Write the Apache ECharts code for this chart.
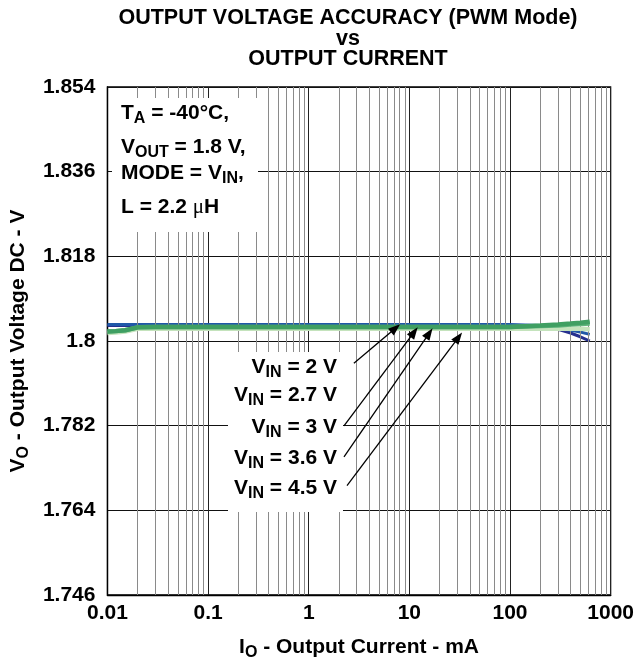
<!DOCTYPE html>
<html><head><meta charset="utf-8">
<script src="https://cdn.jsdelivr.net/npm/echarts/dist/echarts.min.js"></script>
<style>html,body{margin:0;padding:0;background:#fff}#c{width:637px;height:666px}</style>
</head><body><div id="c"></div>
<script>
// ---- data ----
const currents = [0.01,0.012,0.015,0.02,0.03,0.05,0.1,0.2,0.5,1,2,5,10,20,50,100,200,300,400,500,620];
const vin2V  = [1.8033,1.8033,1.8033,1.8033,1.8033,1.8033,1.8033,1.8033,1.8033,1.8033,1.8033,1.8033,1.8033,1.8033,1.8033,1.8033,1.8031,1.8025,1.8017,1.8009,1.8000];
const vin27V = [1.8035,1.8035,1.8035,1.8035,1.8035,1.8035,1.8035,1.8035,1.8035,1.8035,1.8035,1.8035,1.8035,1.8035,1.8035,1.8035,1.8033,1.8028,1.8023,1.8019,1.8014];
const vin3V  = [1.8017,1.8018,1.8020,1.8026,1.8026,1.8026,1.8026,1.8026,1.8026,1.8026,1.8026,1.8026,1.8026,1.8026,1.8026,1.8026,1.8026,1.8026,1.8026,1.8026,1.8025];
const vin36V = [1.8020,1.8021,1.8023,1.8029,1.8030,1.8030,1.8030,1.8030,1.8030,1.8030,1.8030,1.8030,1.8030,1.8030,1.8030,1.8030,1.8032,1.8033,1.8035,1.8036,1.8037];
const vin45V = [1.8020,1.8021,1.8023,1.8029,1.8030,1.8030,1.8030,1.8030,1.8030,1.8030,1.8030,1.8030,1.8030,1.8030,1.8030,1.8030,1.8033,1.8035,1.8037,1.8039,1.8041];
const seriesNames = ['VIN = 2 V','VIN = 2.7 V','VIN = 3 V','VIN = 3.6 V','VIN = 4.5 V'];
const yTicks = [1.746,1.764,1.782,1.8,1.818,1.836,1.854];
const xTicks = ['0.01','0.1','1','10','100','1000'];
const titleLines = ['OUTPUT VOLTAGE ACCURACY (PWM Mode)','vs','OUTPUT CURRENT'];
const condLines = ['{m|T}{s|A}{m| = -40°C,}','{m|V}{s|OUT}{m| = 1.8 V,}','{m|MODE = V}{s|IN}{m|,}','{m|L = 2.2 }{mu|μ}{m|H}'];
const vinLabels = ['{m|V}{s|IN}{m| = 2 V}','{m|V}{s|IN}{m| = 2.7 V}','{m|V}{s|IN}{m| = 3 V}','{m|V}{s|IN}{m| = 3.6 V}','{m|V}{s|IN}{m| = 4.5 V}'];
// arrow annotations in data units [current, voltage]
const arrowFrom = [[2.81,1.79528],[2.24,1.78194],[2.24,1.77538],[2.40,1.76923]];
const arrowTo   = [[8.09,1.80354],[12.1,1.8029],[17.0,1.8027],[33.4,1.8018]];

const FONT = 'Liberation Sans, Arial, Helvetica, sans-serif';
const rich = {
  m: {fontSize:21, fontWeight:'bold', fontFamily:FONT, lineHeight:24, verticalAlign:'top', color:'#000'},
  s: {fontSize:16, fontWeight:'bold', fontFamily:FONT, lineHeight:19, padding:[8,0,0,0], verticalAlign:'top', color:'#000'},
  mu:{fontSize:21, fontWeight:'normal', fontFamily:'Liberation Serif, DejaVu Serif, serif', lineHeight:24, verticalAlign:'top', color:'#000'}
};

// minor gridlines positions (2..9 × decade)
const minorVals = [];
for (let e = -2; e < 3; e++) for (let k = 2; k <= 9; k++) minorVals.push(+(k*Math.pow(10,e)).toPrecision(6));

const chart = echarts.init(document.getElementById('c'), null, {renderer:'canvas'});
const colors = ['#26308e','#2058a8','#c4e3bc','#5fb47c','#3f9f62'];
const widths = [3,3,4.5,4.5,4.5];
const vals = [vin2V,vin27V,vin3V,vin36V,vin45V];

const series = [{
  type:'line', data:[], z:1, silent:true,
  markLine:{silent:true, symbol:['none','none'], label:{show:false},
    lineStyle:{color:'#8a8a8a', width:1, type:'solid'},
    animation:false,
    data: minorVals.map(v=>({xAxis:v}))}
}];
vals.forEach((arr,i)=>{
  series.push({
    name: seriesNames[i], type:'line', showSymbol:false, symbol:'none', smooth:false,
    data: currents.map((c,j)=>[c, arr[j]]),
    lineStyle:{color:colors[i], width:widths[i]}, itemStyle:{color:colors[i]},
    z:3+i, animation:false
  });
});

chart.setOption({
  animation:false,
  backgroundColor:'#fff',
  grid:{left:102, right:23, top:87, bottom:69, show:true, borderColor:'#000', borderWidth:1.3, backgroundColor:'transparent'},
  xAxis:{
    type:'log', logBase:10, min:0.01, max:1000,
    axisLine:{show:true, lineStyle:{color:'#000', width:1.3}},
    axisTick:{show:false},
    splitLine:{show:true, lineStyle:{color:'#222', width:1}},
    axisLabel:{color:'#000', fontSize:21, fontWeight:'bold', fontFamily:FONT, margin:8,
      formatter: v => { const s = String(+(+v).toPrecision(6)); return xTicks.includes(s) ? s : ''; }},
    name:'{m|I}{s|O}{m| - Output Current - mA}', nameLocation:'middle', nameGap:42,
    nameTextStyle:{rich:rich}
  },
  yAxis:{
    type:'value', min:1.746, max:1.854, interval:0.018,
    axisLine:{show:true, lineStyle:{color:'#000', width:1.3}},
    axisTick:{show:false},
    splitLine:{show:true, lineStyle:{color:'#111', width:1.2}},
    axisLabel:{color:'#000', fontSize:21, fontWeight:'bold', fontFamily:FONT, margin:12,
      formatter: v => String(+(+v).toFixed(3))},
    name:'{m|V}{s|O}{m| - Output Voltage DC - V}', nameLocation:'middle', nameGap:69,
    nameTextStyle:{rich:rich}
  },
  series: series
});

// graphics: title, condition box, labels, arrows
const g = [];
g.push({type:'text', z:100, style:{text:titleLines.join('\n'), x:348, y:8, textAlign:'center', align:'center', textVerticalAlign:'top', verticalAlign:'top',
  font:'bold 21.5px '+FONT, fill:'#000', lineHeight:20.5}});
g.push({type:'rect', z:50, shape:{x:112, y:98, width:146, height:134}, style:{fill:'#fff'}});
g.push({type:'rect', z:50, shape:{x:228, y:352, width:115, height:160}, style:{fill:'#fff'}});
const condTops = [102.5,136.5,163,196.5];
condLines.forEach((t,i)=>g.push({type:'text', z:100, style:{text:t, x:121, y:condTops[i], textAlign:'left', align:'left', textVerticalAlign:'top', verticalAlign:'top', rich:rich, fill:'#000'}}));
const vinTops = [356.5,385,416.5,448,478];
vinLabels.forEach((t,i)=>g.push({type:'text', z:100, style:{text:t, x:337, y:vinTops[i], textAlign:'right', align:'right', textVerticalAlign:'top', verticalAlign:'top', rich:rich, fill:'#000'}}));
arrowFrom.forEach((f,i)=>{
  const p0 = chart.convertToPixel({gridIndex:0}, f);
  const p1 = chart.convertToPixel({gridIndex:0}, arrowTo[i]);
  const dx=p1[0]-p0[0], dy=p1[1]-p0[1], L=Math.hypot(dx,dy), ux=dx/L, uy=dy/L;
  const hl=12, hw=4.5;
  const bx=p1[0]-ux*hl, by=p1[1]-uy*hl;
  g.push({type:'line', z:110, shape:{x1:p0[0],y1:p0[1],x2:bx+ux*2,y2:by+uy*2}, style:{stroke:'#000', lineWidth:1.3}});
  g.push({type:'polygon', z:110, shape:{points:[[p1[0],p1[1]],[bx-uy*hw,by+ux*hw],[bx+uy*hw,by-ux*hw]]}, style:{fill:'#000'}});
});
chart.setOption({graphic:{elements:g}});
</script>
</body></html>
